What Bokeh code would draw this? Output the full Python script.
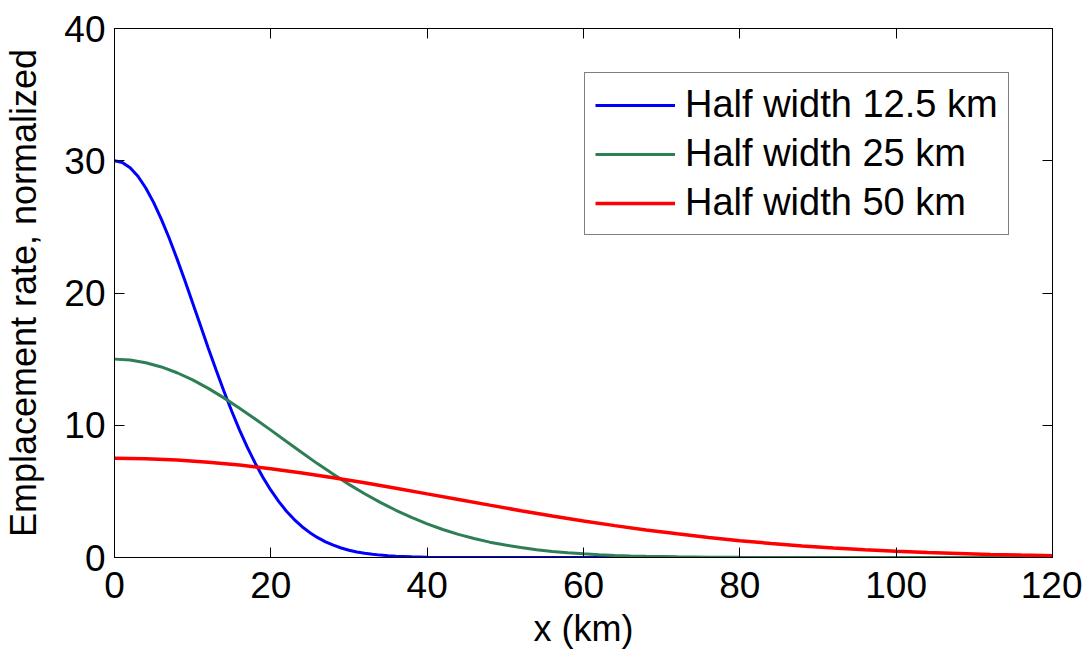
from bokeh.plotting import figure
from bokeh.models import (LinearAxis, Range1d, Legend, LegendItem, FixedTicker,
                          CustomJSTickFormatter)
from bokeh.embed import file_html
from bokeh.resources import INLINE

# ---- data ----
x_blue = [0, 1, 2, 3, 4, 5, 6, 7, 8, 9, 10, 11, 12, 13, 14, 15, 16, 17, 18, 19, 20,
          21, 22, 23, 24, 25, 26, 27, 28, 29, 30, 31, 32, 33, 34, 35, 36, 38, 40,
          50, 60, 70, 80, 90, 100, 110, 120]
y_blue = [30.0, 29.87, 29.47, 28.83, 27.94, 26.85, 25.57, 24.14, 22.58, 20.94, 19.25,
          17.54, 15.83, 14.17, 12.57, 11.06, 9.63, 8.33, 7.13, 6.05, 5.09,
          4.24, 3.50, 2.87, 2.33, 1.88, 1.50, 1.18, 0.93, 0.72, 0.55, 0.42, 0.32,
          0.24, 0.18, 0.13, 0.10, 0.05, 0.02,
          0.0, 0.0, 0.0, 0.0, 0.0, 0.0, 0.0, 0.0]

x_green = [0, 2, 4, 6, 8, 10, 12, 14, 16, 18, 20, 22, 24, 26, 28, 30, 32, 34, 36, 38,
           40, 42, 44, 46, 48, 50, 52, 54, 56, 58, 60, 62, 64, 66, 68, 70, 72, 76,
           80, 90, 100, 110, 120]
y_green = [15.0, 14.93, 14.73, 14.41, 13.97, 13.43, 12.79, 12.07, 11.29, 10.47, 9.63,
           8.77, 7.92, 7.08, 6.29, 5.53, 4.82, 4.17, 3.57, 3.03, 2.54, 2.12, 1.75,
           1.44, 1.16, 0.94, 0.75, 0.59, 0.46, 0.36, 0.28, 0.21, 0.16, 0.12, 0.09,
           0.07, 0.05, 0.02, 0.01, 0.0, 0.0, 0.0, 0.0]

x_red = [0, 4, 8, 12, 16, 20, 24, 28, 32, 36, 40, 44, 48, 52, 56, 60, 64, 68, 72, 76,
         80, 84, 88, 92, 96, 100, 104, 108, 112, 116, 120]
y_red = [7.5, 7.47, 7.37, 7.21, 6.99, 6.71, 6.39, 6.03, 5.65, 5.24, 4.81, 4.39, 3.96,
         3.54, 3.14, 2.76, 2.41, 2.08, 1.79, 1.51, 1.27, 1.06, 0.87, 0.72, 0.58,
         0.47, 0.37, 0.30, 0.23, 0.18, 0.14]

series_names = ["Half width 12.5 km", "Half width 25 km", "Half width 50 km"]
x_ticks = [0, 20, 40, 60, 80, 100, 120]
y_ticks = [0, 10, 20, 30, 40]

FONT = "Liberation Sans"

p = figure(frame_width=938, frame_height=529,
           x_range=Range1d(0, 120), y_range=Range1d(0, 40),
           output_backend="svg", toolbar_location=None,
           min_border_left=105, min_border_top=28, min_border_right=30,
           min_border_bottom=85)
p.grid.visible = False
p.outline_line_color = "black"
p.outline_line_width = 1
p.background_fill_color = "white"
p.border_fill_color = "white"

p.xaxis.axis_label = "x (km)"
p.yaxis.axis_label = "Emplacement rate, normalized"
for ax in (p.xaxis[0], p.yaxis[0]):
    ax.major_tick_in = 10
    ax.major_tick_out = 0
    ax.minor_tick_line_color = None
    ax.axis_line_color = "black"
    ax.major_tick_line_color = "black"
    ax.major_label_text_font = FONT
    ax.major_label_text_font_size = "37px"
    ax.major_label_text_color = "black"
    ax.axis_label_text_font = FONT
    ax.axis_label_text_font_size = "36px"
    ax.axis_label_text_font_style = "normal"
    ax.axis_label_text_color = "black"
p.xaxis.ticker = FixedTicker(ticks=x_ticks)
p.yaxis.ticker = FixedTicker(ticks=y_ticks)
p.xaxis.major_label_standoff = 14
p.yaxis.major_label_standoff = 9
p.xaxis.axis_label_standoff = 7
p.yaxis.axis_label_standoff = 17

blank = CustomJSTickFormatter(code="return ''")
top = LinearAxis(ticker=FixedTicker(ticks=x_ticks), formatter=blank,
                 major_tick_in=10, major_tick_out=0, minor_tick_line_color=None,
                 major_label_text_font_size="1px")
right = LinearAxis(ticker=FixedTicker(ticks=y_ticks), formatter=blank,
                   major_tick_in=10, major_tick_out=0, minor_tick_line_color=None,
                   major_label_text_font_size="1px")
p.add_layout(top, "above")
p.add_layout(right, "right")

r1 = p.line(x_blue, y_blue, line_color="#0000FF", line_width=3)
r2 = p.line(x_green, y_green, line_color="#2E7F55", line_width=3)
r3 = p.line(x_red, y_red, line_color="#FF0000", line_width=3.5)

legend = Legend(items=[LegendItem(label=series_names[0], renderers=[r1]),
                       LegendItem(label=series_names[1], renderers=[r2]),
                       LegendItem(label=series_names[2], renderers=[r3])],
                location=(470, 322))
legend.label_text_font = FONT
legend.label_text_font_size = "38px"
legend.label_text_color = "black"
legend.glyph_width = 80
legend.glyph_height = 42
legend.spacing = 6
legend.padding = 10
legend.margin = 0
legend.label_standoff = 10
legend.border_line_color = "black"
legend.border_line_width = 1
legend.background_fill_alpha = 1
p.add_layout(legend)

open("out.html", "w").write(file_html(p, INLINE))
